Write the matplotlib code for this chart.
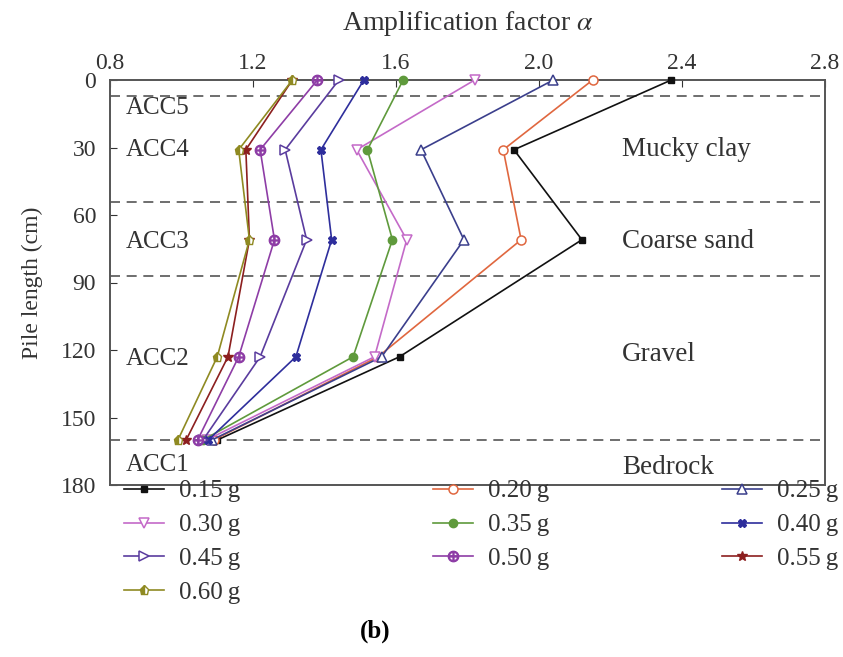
import matplotlib
matplotlib.use('Agg')
import matplotlib.pyplot as plt

plt.rcParams['font.family'] = ['Liberation Serif', 'DejaVu Serif']
plt.rcParams['mathtext.fontset'] = 'stix'

# depths of the accelerometers (cm)
depth = [0, 31, 71, 123, 160]

labels = ['0.15\u2009g', '0.20\u2009g', '0.25\u2009g', '0.30\u2009g', '0.35\u2009g',
          '0.40\u2009g', '0.45\u2009g', '0.50\u2009g', '0.55\u2009g', '0.60\u2009g']
a015 = [2.37, 1.93, 2.12, 1.61, 1.10]
a020 = [2.15, 1.90, 1.95, 1.55, 1.09]
a025 = [2.04, 1.67, 1.79, 1.56, 1.085]
a030 = [1.82, 1.49, 1.63, 1.54, 1.07]
a035 = [1.62, 1.52, 1.59, 1.48, 1.06]
a040 = [1.51, 1.39, 1.42, 1.32, 1.075]
a045 = [1.44, 1.29, 1.35, 1.22, 1.06]
a050 = [1.38, 1.22, 1.26, 1.16, 1.045]
a055 = [1.31, 1.18, 1.19, 1.13, 1.013]
a060 = [1.31, 1.16, 1.19, 1.10, 0.99]
series = [a015, a020, a025, a030, a035, a040, a045, a050, a055, a060]

layer_bounds = [7, 54, 87, 160]
acc_names = ['ACC5', 'ACC4', 'ACC3', 'ACC2', 'ACC1']
acc_y = [12.5, 31, 72, 124, 171]
soil_names = ['Mucky clay', 'Coarse sand', 'Gravel', 'Bedrock']
soil_y = [31, 72, 122, 172]

colors = ['#111111', '#e0673f', '#3b3f8c', '#c46ac8', '#5f9a3c',
          '#2e2e9c', '#5a3c9e', '#8e3da6', '#8c1f1f', '#8f8a22']
styles = [('s', 'full'), ('o', 'none'), ('^', 'none'), ('v', 'none'), ('o', 'full'),
          ('X', 'full'), ('>', 'none'), ('$\\oplus$', 'full'), ('*', 'full'), ('p', 'left')]

fig = plt.figure(figsize=(8.43, 6.57), dpi=100)
ax = fig.add_axes([110 / 843, 1 - 485 / 657, 715 / 843, 405 / 657])

handles = []
for s, c, (m, fill), lab in zip(series, colors, styles, labels):
    kw = dict(color=c, lw=1.2, marker=m, label=lab)
    if fill == 'none':
        kw.update(markerfacecolor='white', markeredgecolor=c, markersize=6.5, mew=1.1)
    elif fill == 'left':
        kw.update(fillstyle='left', markerfacecolor=c, markerfacecoloralt='white',
                  markeredgecolor=c, markersize=6.5)
    elif m == 's':
        kw.update(markersize=4.5)
    elif m == '*':
        kw.update(markersize=7.5)
    elif m.startswith('$'):
        kw.update(markersize=7.5)
    else:
        kw.update(markersize=6)
    h, = ax.plot(s, depth, zorder=3, clip_on=False, **kw)
    handles.append(h)

for b in layer_bounds:
    ax.axhline(b, color='#555555', lw=1.2, ls=(0, (6, 4)), zorder=1)

for n, y in zip(acc_names, acc_y):
    ax.text(0.845, y, n, fontsize=18, va='center', ha='left', color='#333333')
for n, y in zip(soil_names, soil_y):
    ax.text(2.232, y, n, fontsize=19.5, va='center', ha='left', color='#333333')

ax.set_xlim(0.8, 2.8)
ax.set_ylim(180, 0)
ax.set_xticks([0.8, 1.2, 1.6, 2.0, 2.4, 2.8])
ax.set_xticklabels(['0.8', '1.2', '1.6', '2.0', '2.4', '2.8'])
ax.set_yticks([0, 30, 60, 90, 120, 150, 180])
ax.xaxis.tick_top()
ax.xaxis.set_label_position('top')
ax.tick_params(axis='both', direction='in', labelsize=17, colors='#333333', length=5)
ax.tick_params(axis='x', pad=4)
ax.tick_params(axis='y', pad=10)
ax.set_xlabel('Amplification factor $\\alpha$', fontsize=20, color='#333333', labelpad=17)
ax.set_ylabel('Pile length (cm)', fontsize=17, color='#333333', labelpad=13)
for sp in ax.spines.values():
    sp.set_color('#555555')
    sp.set_linewidth(1.4)

# legend: three columns placed separately, filled row by row
col_x = [124, 433, 722]
for ci, x0 in enumerate(col_x):
    idx = list(range(ci, len(handles), 3))
    fig.legend([handles[i] for i in idx], [labels[i] for i in idx],
               loc='upper left', bbox_to_anchor=(x0 / 843, 1 - 480 / 657),
               frameon=False, fontsize=18, handlelength=1.6, handletextpad=0.6,
               labelspacing=0.45, borderpad=0, borderaxespad=0, labelcolor='#333333')

fig.text(375 / 843, 1 - 631 / 657, '(b)', fontsize=18, fontweight='bold',
         ha='center', va='center')

fig.savefig('out.png', dpi=100)
